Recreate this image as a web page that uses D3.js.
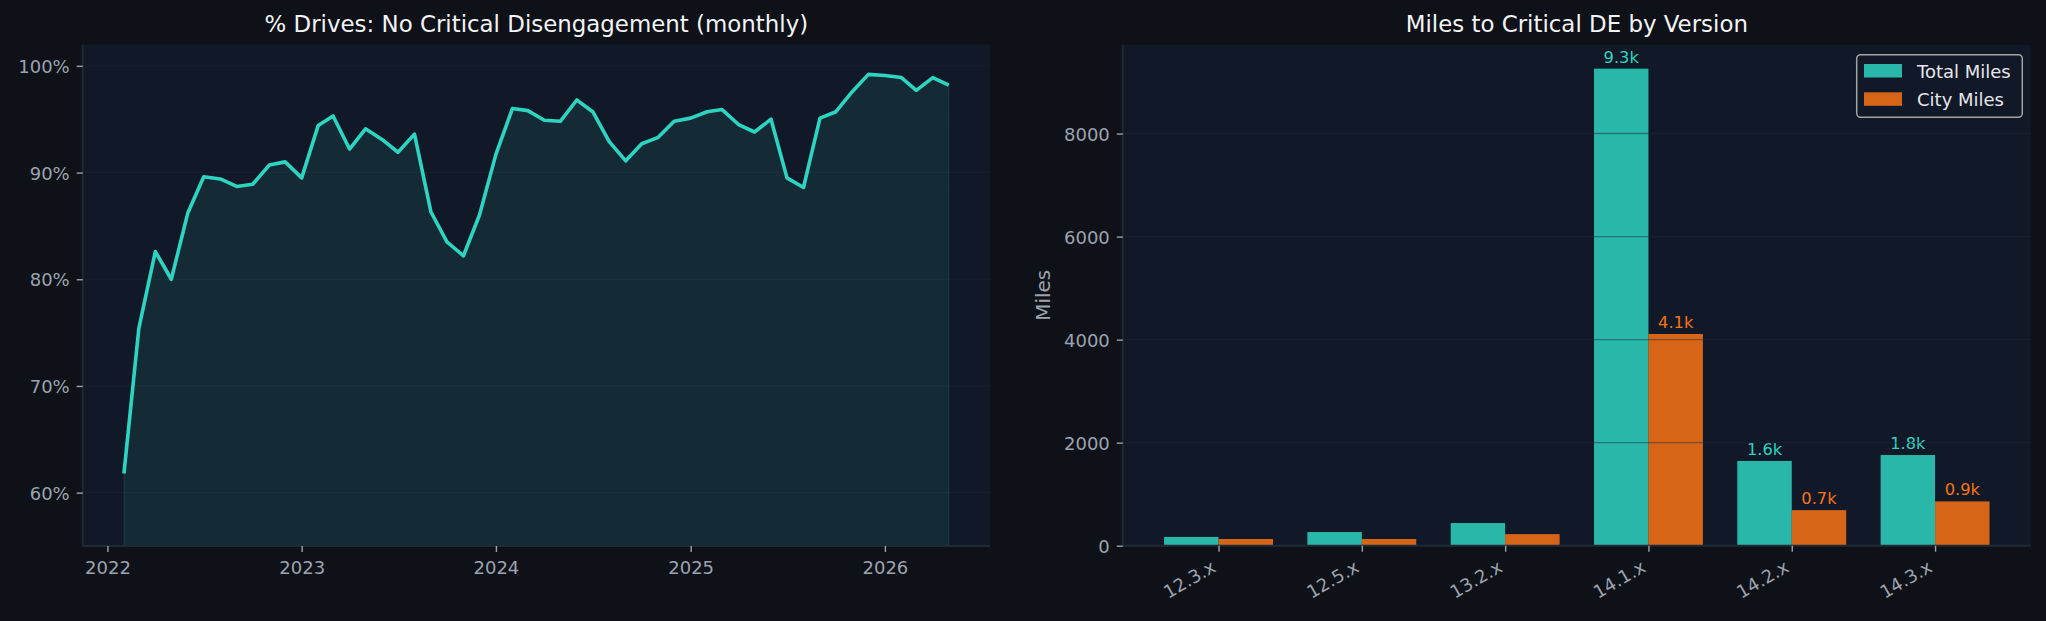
<!DOCTYPE html>
<html>
<head>
<meta charset="utf-8">
<script src="https://cdn.jsdelivr.net/npm/d3@7"></script>
<style>
  html, body { margin: 0; padding: 0; background: #0e1117; }
  svg { display: block; font-family: "DejaVu Sans", sans-serif; }
</style>
</head>
<body>
<div id="chart"></div>
<script>
// monthly share of drives without a critical disengagement (Feb 2022 .. May 2026)
const months = d3.timeMonths(new Date(2022, 1, 1), new Date(2026, 5, 1));
const pctNoDE = [
  61.8, 75.4, 82.6, 80.0, 86.2, 89.6, 89.4, 88.7, 88.9, 90.7, 91.0,
  89.5, 94.4, 95.3, 92.2, 94.1, 93.1, 91.9, 93.6, 86.3, 83.5, 82.2, 86.0,
  91.7, 96.0, 95.8, 94.9, 94.8, 96.8, 95.7, 92.9, 91.1, 92.7, 93.3, 94.8,
  95.1, 95.7, 95.9, 94.5, 93.8, 95.0, 89.5, 88.6, 95.1, 95.7, 97.6, 99.2,
  99.1, 98.9, 97.7, 98.9, 98.2
];
const pctTicks = [60, 70, 80, 90, 100];

// miles to critical DE by FSD version
const versions = ["12.3.x", "12.5.x", "13.2.x", "14.1.x", "14.2.x", "14.3.x"];
const totalMiles = [170, 265, 440, 9260, 1645, 1760];
const cityMiles = [130, 130, 225, 4110, 690, 860];
const milesTicks = [0, 2000, 4000, 6000, 8000];
const seriesNames = ["Total Miles", "City Miles"];

const W = 2046, H = 621;
const teal = "#2dd4bf", orange = "#f97316";
const axBg = "#111827", spine = "#1f2937", tickCol = "#9ca3af", titleCol = "#f3f4f6";

const svg = d3.select("#chart").append("svg")
  .attr("width", W).attr("height", H);
svg.append("rect").attr("width", W).attr("height", H).attr("fill", "#0e1117");

function panel(left, right, top, bottom) {
  const g = svg.append("g");
  g.append("rect")
    .attr("x", left).attr("y", top)
    .attr("width", right - left).attr("height", bottom - top)
    .attr("fill", axBg);
  return g;
}

function styleAxis(sel) {
  sel.select(".domain").remove();
  sel.selectAll(".tick line").attr("stroke", tickCol).attr("stroke-width", 1.4);
  sel.selectAll(".tick text").attr("fill", tickCol).attr("font-size", 18)
    .attr("font-family", "DejaVu Sans");
}

function spines(g, left, right, top, bottom) {
  g.append("line").attr("x1", left).attr("x2", left).attr("y1", top).attr("y2", bottom)
    .attr("stroke", spine).attr("stroke-width", 2);
  g.append("line").attr("x1", left).attr("x2", right).attr("y1", bottom).attr("y2", bottom)
    .attr("stroke", spine).attr("stroke-width", 2);
}

// ---------- left: line chart ----------
{
  const L = 82.7, R = 990, T = 44.5, B = 546;
  const g = panel(L, R, T, B);

  const t0 = months[0], t1 = months[months.length - 1];
  const pad = (t1 - t0) * 0.05;
  const x = d3.scaleTime()
    .domain([new Date(+t0 - pad), new Date(+t1 + pad)])
    .range([L, R]);
  const y = d3.scaleLinear().domain([55, 102]).range([B, T]);

  // grid
  g.append("g").selectAll("line").data(pctTicks).join("line")
    .attr("x1", L).attr("x2", R)
    .attr("y1", d => y(d)).attr("y2", d => y(d))
    .attr("stroke", spine).attr("stroke-opacity", 0.45);

  const data = months.map((m, i) => ({ t: m, v: pctNoDE[i] }));

  g.append("path").datum(data)
    .attr("d", d3.area().x(d => x(d.t)).y0(y(55)).y1(d => y(d.v)))
    .attr("fill", teal).attr("fill-opacity", 0.1)
    .attr("stroke", teal).attr("stroke-opacity", 0.1).attr("stroke-width", 1.5);

  g.append("path").datum(data)
    .attr("d", d3.line().x(d => x(d.t)).y(d => y(d.v)))
    .attr("fill", "none").attr("stroke", teal).attr("stroke-width", 3.6)
    .attr("stroke-linejoin", "round");

  spines(g, L, R, T, B);

  const xa = g.append("g").attr("transform", `translate(0,${B})`)
    .call(d3.axisBottom(x).ticks(d3.timeYear.every(1)).tickFormat(d3.timeFormat("%Y"))
      .tickSize(6).tickPadding(9));
  styleAxis(xa);

  const ya = g.append("g").attr("transform", `translate(${L},0)`)
    .call(d3.axisLeft(y).tickValues(pctTicks).tickFormat(d => d + "%")
      .tickSize(6).tickPadding(7));
  styleAxis(ya);
  ya.selectAll(".tick text").attr("dy", "0.36em");

  g.append("text")
    .attr("x", (L + R) / 2).attr("y", 32)
    .attr("text-anchor", "middle").attr("fill", titleCol)
    .attr("font-size", 22.9)
    .text("% Drives: No Critical Disengagement (monthly)");
}

// ---------- right: grouped bars ----------
{
  const L = 1122.8, R = 2030.8, T = 44.8, B = 545.7;
  const g = panel(L, R, T, B);
  const bw = 0.38;
  const n = versions.length;
  const m = (n - 1 + 2 * bw) * 0.05;

  const x = d3.scaleLinear().domain([-bw - m, n - 1 + bw + m]).range([L, R]);
  const ymax = d3.max(totalMiles.concat(cityMiles)) * 1.05;
  const y = d3.scaleLinear().domain([0, ymax]).range([B, T]);

  const series = [
    { name: seriesNames[0], vals: totalMiles, color: teal, off: -bw },
    { name: seriesNames[1], vals: cityMiles, color: orange, off: 0 }
  ];

  series.forEach(s => {
    g.append("g").selectAll("rect").data(s.vals).join("rect")
      .attr("x", (d, i) => x(i + s.off))
      .attr("width", x(bw) - x(0))
      .attr("y", d => y(d))
      .attr("height", d => y(0) - y(d))
      .attr("fill", s.color).attr("fill-opacity", 0.85);

    g.append("g").selectAll("text").data(s.vals.map((v, i) => ({ v, i })).filter(d => d.v >= 500))
      .join("text")
      .attr("x", d => x(d.i + s.off + bw / 2))
      .attr("y", d => y(d.v) - 6)
      .attr("text-anchor", "middle")
      .attr("fill", s.color).attr("font-size", 16.25)
      .text(d => (d.v / 1000).toFixed(1) + "k");
  });

  // grid drawn over bars
  g.append("g").selectAll("line").data(milesTicks.slice(1)).join("line")
    .attr("x1", L).attr("x2", R)
    .attr("y1", d => y(d)).attr("y2", d => y(d))
    .attr("stroke", spine).attr("stroke-opacity", 0.45).attr("stroke-width", 1.4);

  spines(g, L, R, T, B);

  const xa = g.append("g").attr("transform", `translate(0,${B})`)
    .call(d3.axisBottom(x).tickValues(d3.range(n)).tickFormat(i => versions[i])
      .tickSize(6));
  styleAxis(xa);
  xa.selectAll(".tick text")
    .attr("text-anchor", "end")
    .attr("y", 0).attr("dy", 0)
    .attr("transform", "translate(-2,25) rotate(-30)");

  const ya = g.append("g").attr("transform", `translate(${L},0)`)
    .call(d3.axisLeft(y).tickValues(milesTicks).tickFormat(d3.format("d"))
      .tickSize(6).tickPadding(7));
  styleAxis(ya);
  ya.selectAll(".tick text").attr("dy", "0.36em");

  g.append("text")
    .attr("transform", `translate(1050,${(T + B) / 2}) rotate(-90)`)
    .attr("text-anchor", "middle").attr("fill", tickCol).attr("font-size", 19.9)
    .text("Miles");

  g.append("text")
    .attr("x", (L + R) / 2).attr("y", 32)
    .attr("text-anchor", "middle").attr("fill", titleCol)
    .attr("font-size", 22.9)
    .text("Miles to Critical DE by Version");

  // legend
  const lg = g.append("g");
  lg.append("rect")
    .attr("x", 1856.7).attr("y", 54.7).attr("width", 165.6).attr("height", 62.6)
    .attr("rx", 4).attr("fill", axBg).attr("stroke", "#a3a3a3").attr("stroke-width", 1.5);
  series.forEach((s, i) => {
    lg.append("rect")
      .attr("x", 1864).attr("y", 64 + i * 28.3).attr("width", 38).attr("height", 13.5)
      .attr("fill", s.color).attr("fill-opacity", 0.85);
    lg.append("text")
      .attr("x", 1917).attr("y", 77.7 + i * 28.3)
      .attr("fill", "#e5e7eb").attr("font-size", 18)
      .text(s.name);
  });
}
</script>
</body>
</html>
